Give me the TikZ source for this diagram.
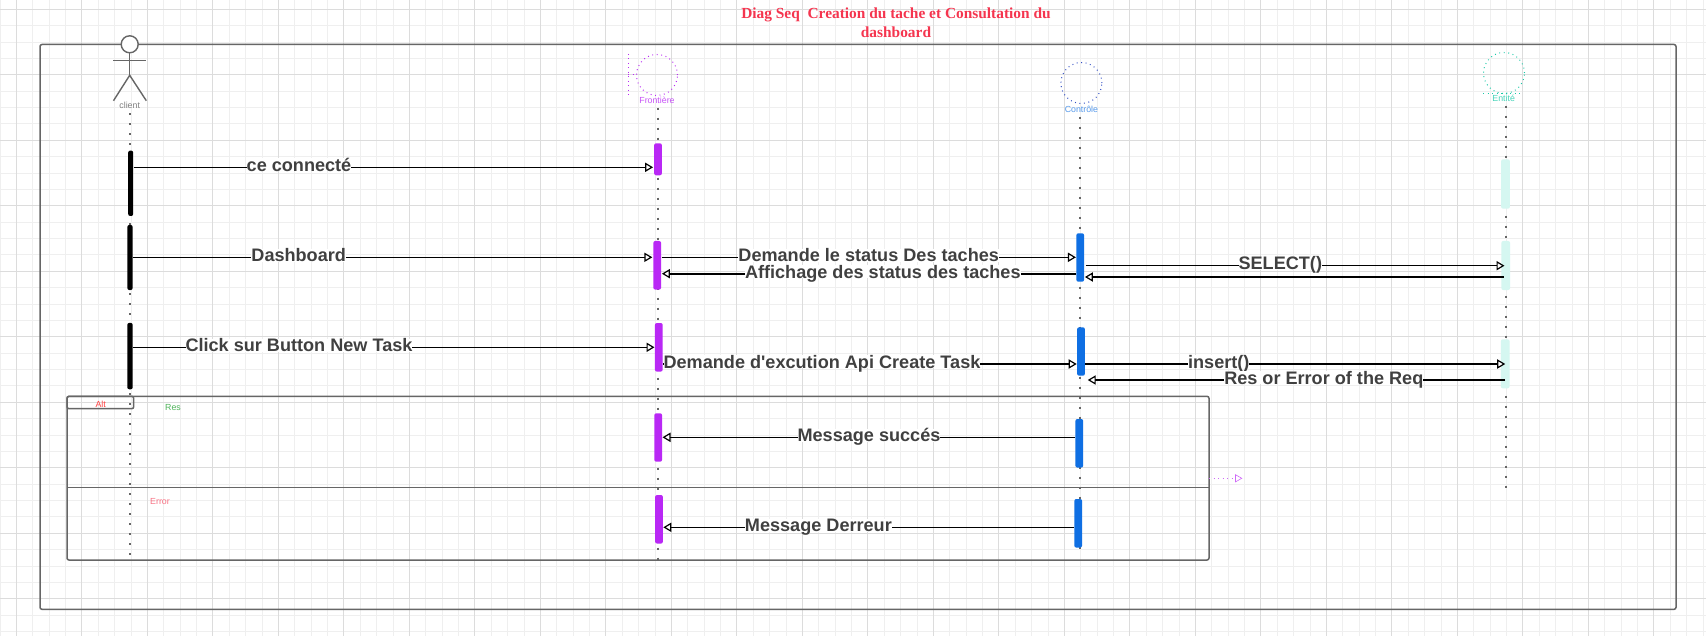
\documentclass[tikz,border=0pt]{standalone}
\usepackage{fontspec}
\setmainfont{Liberation Sans}
\newfontfamily\titlefont{Liberation Serif}
\usepackage{tikz}
\usetikzlibrary{arrows.meta}
\definecolor{gridminor}{HTML}{EFEFEF}
\definecolor{gridmajor}{HTML}{DCDCDC}
\definecolor{framegray}{HTML}{666666}
\definecolor{textgray}{HTML}{404040}
\definecolor{purplebar}{HTML}{B928F5}
\definecolor{bluebar}{HTML}{0F6FE3}
\definecolor{tealbar}{HTML}{D5F7F1}
\definecolor{tealline}{HTML}{19C9A8}
\definecolor{titlered}{HTML}{F5354F}
\definecolor{resgreen}{HTML}{4FB35A}
\tikzset{
  lifeline/.style={draw=framegray,line width=1pt,dash pattern=on 1pt off 4pt},
  lifebar/.style={rounded corners=1pt,minimum width=3.9pt,inner sep=0pt},
  msg/.style={line width=0.65pt,-{Triangle[open,length=4pt,width=4.6pt,line width=0.6pt,fill=white]}},
  msgheavy/.style={msg,line width=0.9pt},
  msglabel/.style={fill=white,inner sep=0pt,text=textgray,text height=6.5pt,text depth=0pt,font=\fontsize{9.05}{9}\selectfont\bfseries},
  smalllabel/.style={inner sep=0pt,font=\fontsize{4.4}{5}\selectfont},
  symboldots/.style={dash pattern=on 0.45pt off 1.8pt,line width=0.5pt},
  symbolcircle/.style={circle,symboldots,minimum size=20.5pt,inner sep=0pt},
  framebox/.style={draw=framegray,line width=0.75pt,rounded corners=1pt}
}
\begin{document}
\begin{tikzpicture}[x=0.5pt,y=-0.5pt]
\useasboundingbox (0,0) rectangle (1706,636);

% Grid
\fill[white] (0,0) rectangle (1706,636);
\foreach \k in {0,...,104} \draw[gridminor,line width=0.5pt] (16.375*\k,0) -- (16.375*\k,636);
\foreach \k in {0,...,38} \draw[gridminor,line width=0.5pt] (0,9.3+16.375*\k) -- (1706,9.3+16.375*\k);
\foreach \k in {0,...,25} \draw[gridmajor,line width=0.55pt] (16.3+65.5*\k,0) -- (16.3+65.5*\k,636);
\foreach \k in {0,...,9} \draw[gridmajor,line width=0.55pt] (0,9.3+65.5*\k) -- (1706,9.3+65.5*\k);

% Title
\node[text=titlered,align=center,inner sep=0pt,font=\titlefont\fontsize{7.7}{9.35}\selectfont\bfseries] (diagTitle) at (896,22.5)
  {Diag Seq\ \ Creation du tache et Consultation du\\dashboard};

% Frames
\draw[framebox] (40,44.5) rectangle (1676,609.3);
\draw[framebox] (67,396.3) rectangle (1209,560);
\draw[framebox] (67,396.3) rectangle (133.7,408.7);
\coordinate (altLeft) at (67,487.3);
\coordinate (altRight) at (1209,487.3);
\draw[draw=framegray,line width=0.75pt] (altLeft) -- (altRight);

% Actor
\node[circle,draw=framegray,fill=white,line width=0.7pt,minimum size=8.5pt,inner sep=0pt] (cliHead) at (129.7,44.3) {};
\coordinate (cliHip) at (129.7,75.3);
\coordinate (cliArmL) at (113.3,60.7);
\coordinate (cliArmR) at (146,60.7);
\coordinate (cliFootL) at (113.5,100.7);
\coordinate (cliFootR) at (146.3,100.7);
\draw[draw=framegray,line width=0.7pt] (cliHead.south) -- (cliHip);
\draw[draw=framegray,line width=0.7pt] (cliArmL) -- (cliArmR);
\draw[draw=framegray,line width=0.7pt] (cliFootL) -- (cliHip) -- (cliFootR);
\node[smalllabel,text=gray] (cliLabel) at (129.7,105.7) {client};

% Frontiere
\node[symbolcircle,draw=purplebar] (froCircle) at (657,75) {};
\coordinate (froStem) at (628.2,75);
\coordinate (froTop) at (628.2,54);
\coordinate (froBottom) at (628.2,95.7);
\draw[purplebar,symboldots] (froTop) -- (froBottom);
\draw[purplebar,symboldots] (froStem) -- (froCircle.west);
\node[smalllabel,text=purplebar!80] (froLabel) at (657,100) {Frontière};

% Controle
\node[symbolcircle,draw=bluebar!70!violet] (ctrCircle) at (1081.4,83) {};
\node[smalllabel,text=bluebar!70] (ctrLabel) at (1081.4,109) {Contrôle};

% Entite
\node[symbolcircle,draw=tealline] (entCircle) at (1504,73) {};
\coordinate (entBaseL) at (1483,93.3);
\coordinate (entBaseR) at (1522,93.3);
\draw[tealline,symboldots] (entBaseL) -- (entBaseR);
\node[smalllabel,text=tealline!80] (entLabel) at (1503.7,98) {Entité};

% Lifelines
\coordinate (cliEnd) at (130,558);
\coordinate (froEnd) at (658,560);
\coordinate (ctrEnd) at (1080.4,551);
\coordinate (entEnd) at (1505.7,494);
\draw[lifeline] (cliEnd |- cliLabel.south) ++(0,4) -- (cliEnd);
\draw[lifeline] (froEnd |- froLabel.south) ++(0,4) -- (froEnd);
\draw[lifeline] (ctrEnd |- ctrLabel.south) ++(0,4) -- (ctrEnd);
\draw[lifeline] (entEnd |- entLabel.south) ++(0,4) -- (entEnd);

% Activation bars
\node[lifebar,fill=black,minimum width=2.5pt,minimum height=32.7pt] (cliA) at (130.7,183.3) {};
\node[lifebar,fill=black,minimum width=2.7pt,minimum height=32.5pt] (cliB) at (130,257.5) {};
\node[lifebar,fill=black,minimum width=2.7pt,minimum height=33.2pt] (cliC) at (130,356.1) {};
\node[lifebar,fill=purplebar,minimum height=16pt] (froA) at (658,159.3) {};
\node[lifebar,fill=purplebar,minimum height=24.3pt] (froB) at (657.2,265.3) {};
\node[lifebar,fill=purplebar,minimum height=24.3pt] (froC) at (658.8,347.3) {};
\node[lifebar,fill=purplebar,minimum height=24.2pt] (froD) at (658.2,437.5) {};
\node[lifebar,fill=purplebar,minimum height=24.3pt] (froE) at (659,519.3) {};
\node[lifebar,fill=bluebar,minimum height=24.2pt] (ctrA) at (1080.2,257.5) {};
\node[lifebar,fill=bluebar,minimum height=24.2pt] (ctrB) at (1081,351.5) {};
\node[lifebar,fill=bluebar,minimum height=24.3pt] (ctrC) at (1079.3,443.3) {};
\node[lifebar,fill=bluebar,minimum height=24.3pt] (ctrD) at (1078.2,523.3) {};
\node[lifebar,fill=tealbar,minimum width=4.4pt,minimum height=24.7pt] (entA) at (1505.5,184) {};
\node[lifebar,fill=tealbar,minimum width=4.4pt,minimum height=24.5pt] (entB) at (1505.7,265.5) {};
\node[lifebar,fill=tealbar,minimum width=4.4pt,minimum height=24.5pt] (entC) at (1505.2,363.8) {};

% Messages
\coordinate (rowA) at (0,167.3);
\coordinate (rowB) at (0,257.3);
\coordinate (rowC) at (0,273.7);
\coordinate (rowD) at (0,265.7);
\coordinate (rowE) at (0,277);
\coordinate (rowF) at (0,347.3);
\coordinate (rowG) at (0,364);
\coordinate (rowH) at (0,380);
\coordinate (rowI) at (0,437.3);
\coordinate (rowJ) at (0,527.3);
\draw[msg] (cliA.east |- rowA) -- ([xshift=-0.3pt]froA.west |- rowA);
\draw[msg] (cliB.east |- rowB) -- ([xshift=-0.3pt]froB.west |- rowB);
\draw[msg] (froB.east |- rowB) -- (ctrA.west |- rowB);
\draw[msgheavy] (ctrA.west |- rowC) -- ([xshift=0.2pt]froB.east |- rowC);
\draw[msg] ([xshift=0.5pt]ctrA.east |- rowD) -- ([xshift=-3pt]entB.east |- rowD);
\draw[msgheavy] ([xshift=-1pt]entB.center |- rowE) -- ([xshift=0.2pt]ctrA.east |- rowE);
\draw[msg] (cliC.east |- rowF) -- (froC.west |- rowF);
\draw[msgheavy] (froC.east |- rowG) -- (ctrB.west |- rowG);
\draw[msgheavy] (ctrB.east |- rowG) -- (entC.center |- rowG);
\draw[msgheavy] (entC.center |- rowH) -- ([xshift=1.2pt]ctrB.east |- rowH);
\draw[msg] (ctrC.west |- rowI) -- (froD.east |- rowI);
\draw[msg] (ctrD.west |- rowJ) -- (froE.east |- rowJ);

% Labels
\node[msglabel] (lblConnect) at (299,165) {ce connecté};
\node[msglabel] (lblDash) at (298.7,255) {Dashboard};
\node[msglabel] (lblStatus) at (868.7,255) {Demande le status Des taches};
\node[msglabel] (lblShow) at (882.8,271.7) {Affichage des status des taches};
\node[msglabel] (lblSelect) at (1280.3,263.3) {SELECT()};
\node[msglabel] (lblClick) at (299,345) {Click sur Button New Task};
\node[msglabel] (lblApi) at (822,361.7) {Demande d\textquotesingle excution Api Create Task};
\node[msglabel] (lblInsert) at (1218.8,361.7) {insert()};
\node[msglabel] (lblRes) at (1323.8,377.7) {Res or Error of the Req};
\node[msglabel] (lblOk) at (869,435) {Message succés};
\node[msglabel] (lblErr) at (818.4,525) {Message Derreur};

% Alt
\node[smalllabel,text=red!75] (altLabel) at (100.7,404) {Alt};
\node[smalllabel,text=resgreen] (resLabel) at (173,407.7) {Res};
\node[smalllabel,text=titlered!70] (errLabel) at (160,502) {Error};
\coordinate (extStart) at (1209,478.3);
\coordinate (extEnd) at (1242.4,478.3);
\draw[purplebar!70,symboldots,-{Triangle[open,length=3.6pt,width=4pt,line width=0.3pt]}] (extStart) -- (extEnd);

\end{tikzpicture}
\end{document}
